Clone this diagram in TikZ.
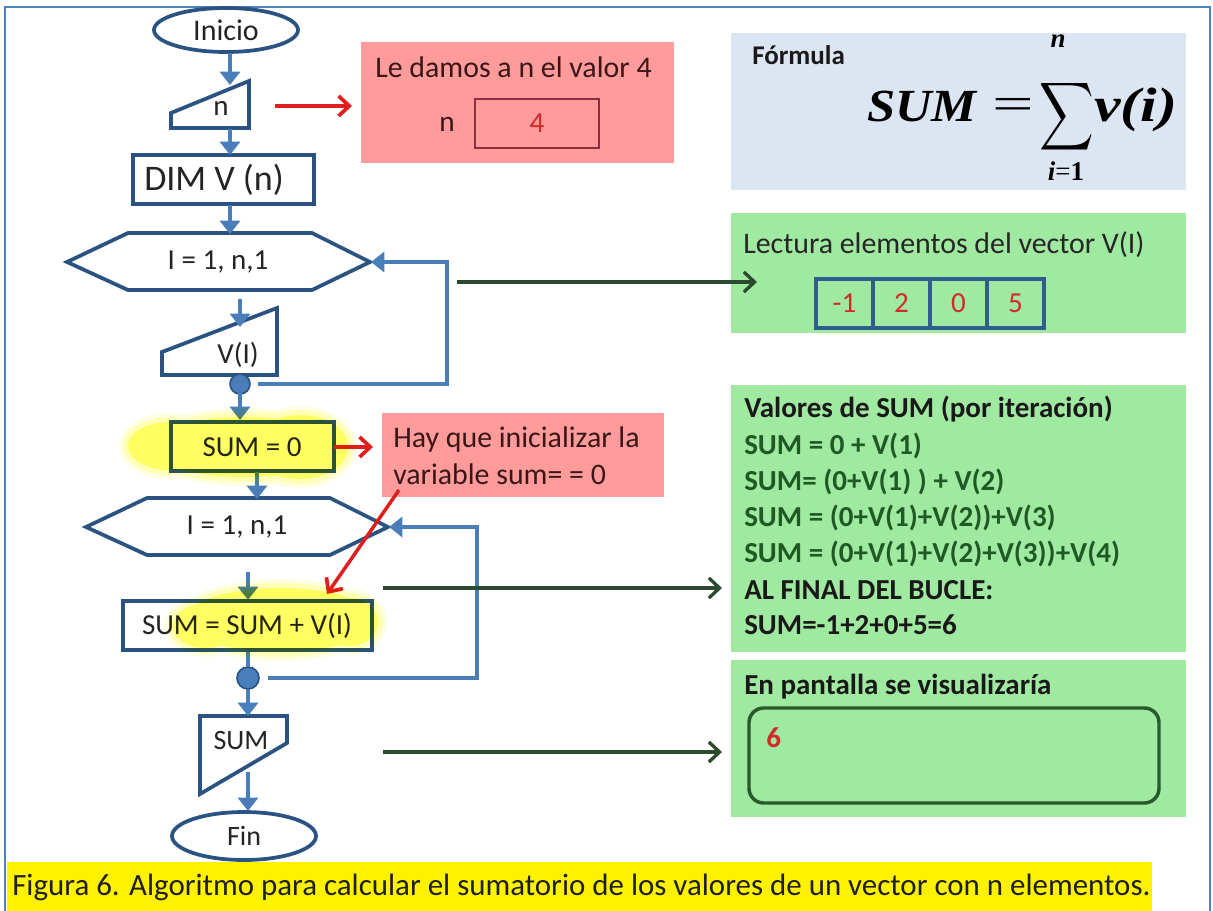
\documentclass[tikz,border=0pt]{standalone}
\usepackage{fontspec}
\setmainfont{Carlito}
\newfontfamily\formulafont{Liberation Serif}
\usetikzlibrary{arrows.meta,shapes.geometric}

\definecolor{frameblue}{HTML}{4F81BD}
\definecolor{shapeblue}{HTML}{2A5382}
\definecolor{flowblue}{HTML}{4A7EBB}
\definecolor{darkarrow}{HTML}{2B4A30}
\definecolor{redarrow}{HTML}{E01E1E}
\definecolor{pinkfill}{HTML}{FF9B9B}
\definecolor{greenfill}{HTML}{A0E9A0}
\definecolor{formfill}{HTML}{DCE6F2}
\definecolor{hilite}{HTML}{FFFF88}
\definecolor{txt}{HTML}{242424}
\definecolor{pinktxt}{HTML}{3A1616}
\definecolor{greentxt}{HTML}{1F5A24}
\definecolor{cellblue}{HTML}{2F5D8C}
\definecolor{valred}{HTML}{D22A2A}
\definecolor{boxmaroon}{HTML}{8A3042}
\definecolor{screengreen}{HTML}{285A2C}

\begin{document}
\begin{tikzpicture}[x=0.75pt,y=-0.75pt,
  shapeline/.style={draw=shapeblue,line width=2.8pt,line join=miter},
  procbox/.style={shapeline,rectangle,inner sep=0pt,minimum height=36.75pt},
  ftext/.style={text=txt,inner sep=0pt,font=\fontsize{21.75}{26}\selectfont},
  flow/.style={draw=flowblue,line width=3pt,-{Triangle[length=10pt,width=15pt]}},
  loopline/.style={draw=flowblue,line width=2.5pt,-{Triangle[length=10pt,width=15pt]}},
  linkarrow/.style={draw=darkarrow,line width=2.5pt,-{Straight Barb[length=8pt,width=15pt,line width=2.5pt]}},
  notearrow/.style={draw=redarrow,line width=2.6pt,-{Straight Barb[length=8pt,width=15pt,line width=2.8pt]}},
  connector/.style={circle,fill=flowblue,draw=shapeblue,line width=1.2pt,inner sep=0pt},
  infobox/.style={rectangle,inner sep=0pt},
  boxtext/.style={inner sep=0pt,anchor=base west,font=\fontsize{21.75}{26}\selectfont},
  boldline/.style={inner sep=0pt,anchor=base west,font=\fontsize{21.75}{26}\selectfont\bfseries},
]
\useasboundingbox (0,0) rectangle (1213,910);
\fill[white] (0,0) rectangle (1213,910);

% ---------- outer frame and caption ----------
\draw[frameblue,line width=2pt] (5,915) -- (5,7) -- (1210,7) -- (1210,915);
\fill[yellow] (7,862) rectangle (1152,915);
\node[boxtext,text=black!88,font=\fontsize{23.2}{27}\selectfont] (caption) at (12,895)
  {Figura 6. Algoritmo para calcular el sumatorio de los valores de un vector con n elementos.};

% ---------- right-hand panels ----------
\node[infobox,fill=pinkfill,minimum width=234.75pt,minimum height=90.75pt] (givebox) at (517.5,102.5) {};
\node[boxtext,text=pinktxt,font=\fontsize{22.4}{26}\selectfont] (givetxt) at (375,77) {Le damos a n el valor 4};
\node[ftext,text=pinktxt,font=\fontsize{22}{26}\selectfont] (givename) at (447,124) {n};
\node[infobox,draw=boxmaroon,line width=2.2pt,minimum width=93pt,minimum height=36.75pt,
      text=valred,font=\fontsize{22}{26}\selectfont] (givecell) at (537,123.5) {4};

\node[infobox,fill=formfill,minimum width=341.25pt,minimum height=117.75pt] (formbox) at (958.5,111.5) {};
\node[boxtext,text=black!90,font=\fontsize{20.25}{24}\selectfont\bfseries] (formtitle) at (752,64) {Fórmula};
\node[inner sep=0pt,anchor=base west,font=\formulafont\fontsize{34.5}{40}\selectfont\bfseries\itshape] (fsum) at (867,121)
  {\scalebox{1.1}[1]{SUM}};
\node[inner sep=0pt,font=\formulafont\fontsize{34.5}{40}\selectfont] (feq) at (1013,109) {\scalebox{1.6}[1]{=}};
\node[inner sep=0pt] (fsigma) at (1067,117) {\resizebox*{41pt}{57pt}{$\displaystyle\sum$}};
\node[inner sep=0pt,anchor=base west,font=\formulafont\fontsize{34.5}{40}\selectfont\bfseries\itshape] (fterm) at (1094,121)
  {\scalebox{1.3}[1.05]{v(i)}};
\node[inner sep=0pt,font=\formulafont\fontsize{20.25}{24}\selectfont\bfseries\itshape] (fupper) at (1058,41) {n};
\node[inner sep=0pt,font=\formulafont\fontsize{20.25}{24}\selectfont] (flower) at (1066,171)
  {{\bfseries\itshape i}=\textbf{1}};

\node[infobox,fill=greenfill,minimum width=341.25pt,minimum height=90pt] (readbox) at (958.5,273) {};
\node[boxtext,text=black!85,font=\fontsize{22.4}{26}\selectfont] (readtxt) at (743,253) {Lectura elementos del vector V(I)};
\foreach \cx/\val [count=\k] in {844.5/-1,901.5/2,958.5/0,1015.5/5}
  \node[infobox,draw=cellblue,line width=2.4pt,minimum width=42.75pt,minimum height=36.75pt,
        text=valred,font=\fontsize{21.75}{26}\selectfont] (cell\k) at (\cx,303.5) {\val};

\node[infobox,fill=greenfill,minimum width=341.25pt,minimum height=200.25pt] (sumbox) at (958.5,518.5) {};
\node[boldline,text=black!90] (sumline1) at (744,417) {Valores de SUM (por iteración)};
\node[boldline,text=greentxt] (sumline2) at (744,454) {SUM = 0 + V(1)};
\node[boldline,text=greentxt] (sumline3) at (744,490) {SUM= (0+V(1) ) + V(2)};
\node[boldline,text=greentxt] (sumline4) at (744,526) {SUM = (0+V(1)+V(2))+V(3)};
\node[boldline,text=greentxt] (sumline5) at (744,562) {SUM = (0+V(1)+V(2)+V(3))+V(4)};
\node[boldline,text=black!90] (sumline6) at (744,599) {AL FINAL DEL BUCLE:};
\node[boldline,text=black!90] (sumline7) at (744,634) {SUM=-1+2+0+5=6};

\node[infobox,fill=greenfill,minimum width=341.25pt,minimum height=117.75pt] (screenbox) at (958.5,738.5) {};
\node[boldline,text=black!90] (screentxt) at (744,694) {En pantalla se visualizaría};
\node[infobox,draw=screengreen,line width=2.6pt,rounded corners=11pt,
      minimum width=307.5pt,minimum height=71.25pt] (screen) at (954,755.5) {};
\node[boldline,text=valred] (screenval) at (766,747) {6};

\node[infobox,fill=pinkfill,minimum width=211.5pt,minimum height=63pt] (initbox) at (523,455) {};
\node[boxtext,text=pinktxt,font=\fontsize{22.4}{26}\selectfont] (initline1) at (393,447) {Hay que inicializar la};
\node[boxtext,text=pinktxt,font=\fontsize{22.4}{26}\selectfont] (initline2) at (393,484) {variable sum= = 0};

% ---------- flowchart shapes ----------
\node[ellipse,shapeline,minimum width=108pt,minimum height=33pt,inner sep=0pt,
      text=txt,font=\fontsize{22.5}{26}\selectfont] (inicio) at (226,30) {Inicio};

\draw[shapeline] (171,113) -- (249,81) -- (249,128) -- (171,128) -- cycle;
\node[ftext] (readn) at (221,108) {n};

\node[procbox,minimum width=135.75pt] (dim) at (223.5,179.5) {};
\node[ftext,font=\fontsize{27}{30}\selectfont] (dimtxt) at (214,180) {DIM V (n)};

\draw[shapeline] (67,262) -- (128,233) -- (312,233) -- (370,262) -- (312,290) -- (128,290) -- cycle;
\node[ftext] (loopa) at (218,262) {I = 1, n,1};

\draw[shapeline] (162,352) -- (277,308) -- (277,375) -- (162,375) -- cycle;
\node[ftext] (readv) at (238,355) {V(I)};

\node[connector,minimum size=15pt] (joina) at (240,384) {};

\node[procbox,minimum width=122.25pt] (init) at (252.5,446.5) {};
\node[ftext] (inittxt) at (252,447) {SUM = 0};

\draw[shapeline] (86,527) -- (147,498) -- (330,498) -- (388,527) -- (330,555) -- (147,555) -- cycle;
\node[ftext] (loopb) at (237,527) {I = 1, n,1};

\node[procbox,minimum width=186.75pt] (accum) at (247.5,625.5) {};
\node[ftext] (accumtxt) at (247,626) {SUM = SUM + V(I)};

\node[connector,minimum size=16.5pt] (joinb) at (248,678) {};

\draw[shapeline] (200,716) -- (287,716) -- (287,743) -- (200,794) -- cycle;
\node[ftext,font=\fontsize{21}{25}\selectfont] (showsum) at (241,741) {SUM};

\node[ellipse,shapeline,minimum width=108pt,minimum height=36pt,inner sep=0pt,
      text=txt,font=\fontsize{21}{25}\selectfont] (fin) at (244,836) {Fin};

% ---------- connector end points ----------
\coordinate (a1s) at (230,53);  \coordinate (a1e) at (230,85);
\coordinate (a2s) at (230,129); \coordinate (a2e) at (230,155);
\coordinate (a3s) at (230,205); \coordinate (a3e) at (230,234);
\coordinate (a4s) at (240,299); \coordinate (a4e) at (240,327);
\coordinate (a5s) at (240,393); \coordinate (a5e) at (240,420);
\coordinate (a6s) at (257,472); \coordinate (a6e) at (257,499);
\coordinate (a7s) at (248,572); \coordinate (a7e) at (248,600);
\coordinate (a8s) at (248,689); \coordinate (a8e) at (248,716);
\coordinate (a9s) at (248,772); \coordinate (a9e) at (248,811);
\coordinate (la1) at (258,384); \coordinate (la2) at (447,384); \coordinate (la3) at (447,262); \coordinate (la4) at (371,262);
\coordinate (lb1) at (268,678); \coordinate (lb2) at (477,678); \coordinate (lb3) at (477,527); \coordinate (lb4) at (389,527);
\coordinate (ra1) at (275,106); \coordinate (ra2) at (352,106);
\coordinate (rb1) at (334,447); \coordinate (rb2) at (373,447);
\coordinate (rc1) at (399,490); \coordinate (rc2) at (327,594);
\coordinate (ka1) at (457,282); \coordinate (ka2) at (757,282);
\coordinate (kb1) at (383,588); \coordinate (kb2) at (722,588);
\coordinate (kc1) at (383,752); \coordinate (kc2) at (722,752);

% ---------- connectors ----------
\draw[flow] (a1s) -- (a1e);
\draw[flow] (a2s) -- (a2e);
\draw[flow] (a3s) -- (a3e);
\draw[flow] (a4s) -- (a4e);
\draw[flow] (a5s) -- (a5e);
\draw[flow] (a6s) -- (a6e);
\draw[flow] (a7s) -- (a7e);
\draw[draw=flowblue,line width=3pt] (accum.south -| joinb) -- (joinb);
\draw[flow] (a8s) -- (a8e);
\draw[flow] (a9s) -- (a9e);
\draw[loopline] (la1) -- (la2) -- (la3) -- (la4);
\draw[loopline] (lb1) -- (lb2) -- (lb3) -- (lb4);
\draw[notearrow] (ra1) -- (ra2);
\draw[notearrow] (rb1) -- (rb2);
\draw[notearrow] (rc1) -- (rc2);
\draw[linkarrow] (ka1) -- (ka2);
\draw[linkarrow] (kb1) -- (kb2);
\draw[linkarrow] (kc1) -- (kc2);

% ---------- marker highlights over the two SUM steps ----------
\begin{scope}[blend mode=multiply]
  \foreach \g/\o in {9/0.25,5/0.4,0/1} {
    \fill[hilite,opacity=\o]
      (245,447) ellipse [x radius=100+\g, y radius=30+\g]
      (170,446) ellipse [x radius=42+\g, y radius=24+\g]
      (300,447) ellipse [x radius=48+\g, y radius=32+\g];
    \fill[hilite,opacity=\o]
      (280,620) ellipse [x radius=96+\g, y radius=32+\g]
      (205,626) ellipse [x radius=32+\g, y radius=22+\g]
      (350,622) ellipse [x radius=28+\g, y radius=24+\g];
  }
\end{scope}
\end{tikzpicture}
\end{document}
